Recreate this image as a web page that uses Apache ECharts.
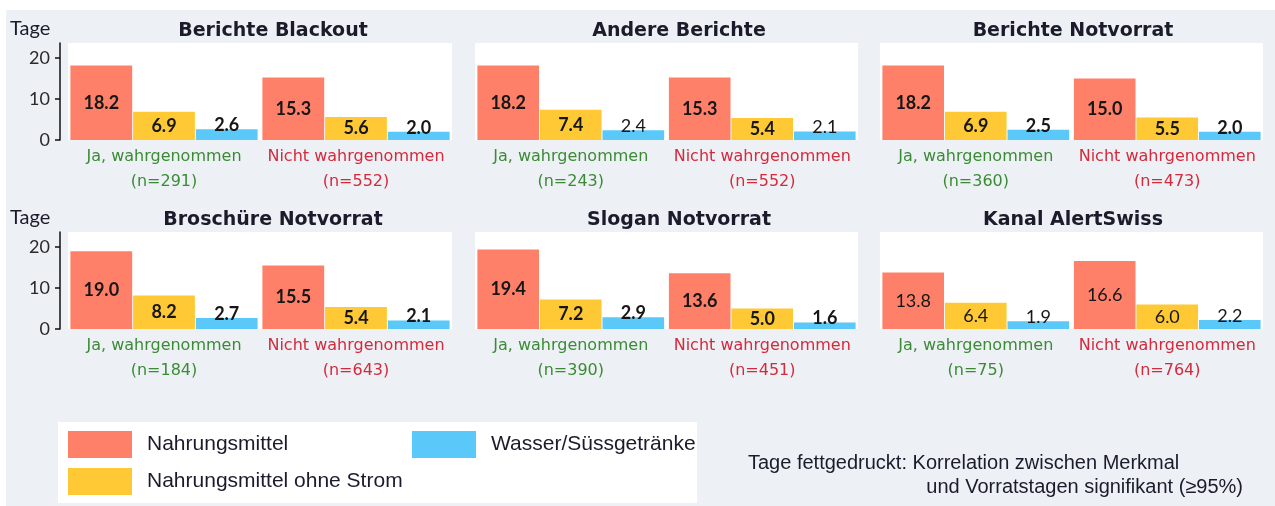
<!DOCTYPE html>
<html>
<head>
<meta charset="utf-8">
<script src="https://cdn.jsdelivr.net/npm/echarts@6/dist/echarts.min.js"></script>
<style>
  html, body { margin: 0; padding: 0; background: #ffffff; }
  #chart { width: 1275px; height: 506px; }
</style>
</head>
<body>
<div id="chart"></div>
<script>
// Panel titles (row by row) and the two groups per panel
const panelTitles = ['Berichte Blackout', 'Andere Berichte', 'Berichte Notvorrat',
                     'Broschüre Notvorrat', 'Slogan Notvorrat', 'Kanal AlertSwiss'];
const groups = ['Ja, wahrgenommen', 'Nicht wahrgenommen'];
const nJa = [291, 243, 360, 184, 390, 75];
const nNicht = [552, 552, 473, 643, 451, 764];

// Days of supply per panel: [Ja, Nicht]
const food        = [[18.2, 15.3], [18.2, 15.3], [18.2, 15.0], [19.0, 15.5], [19.4, 13.6], [13.8, 16.6]];
const foodNoPower = [[6.9, 5.6],   [7.4, 5.4],   [6.9, 5.5],   [8.2, 5.4],   [7.2, 5.0],   [6.4, 6.0]];
const water       = [[2.6, 2.0],   [2.4, 2.1],   [2.5, 2.0],   [2.7, 2.1],   [2.9, 1.6],   [1.9, 2.2]];

// Significant correlation (printed bold) per panel and measure
const sigFood        = [true, true, true, true, true, false];
const sigFoodNoPower = [true, true, true, true, true, false];
const sigWater       = [true, false, true, true, true, false];

const seriesNames = ['Nahrungsmittel', 'Nahrungsmittel ohne Strom', 'Wasser/Süssgetränke'];
const seriesColors = ['#ff8068', '#fec934', '#5bc8fa'];
const yTicks = [0, 10, 20];
const yMax = 23.7;

const noteLines = ['Tage fettgedruckt: Korrelation zwischen Merkmal',
                   'und Vorratstagen signifikant (\u226595%)'];

// Layout of the 3x2 panel grid
const colLeft = [68, 475, 880];
const colWidth = [384, 383, 383];
const rowTop = [43, 232];
const plotHeight = 97;
const titleCenterX = [273, 679, 1073];
const titleY = [31, 220];

const green = '#3b8b35';
const red = '#d42a3c';
const ink = '#1b1b2b';

const grids = [], xAxes = [], yAxes = [], series = [], graphics = [];

graphics.push({ type: 'rect', z: -10, shape: { x: 6, y: 10, width: 1269, height: 496 },
                style: { fill: '#edf1f5' } });

const measures = [food, foodNoPower, water];
const sigs = [sigFood, sigFoodNoPower, sigWater];

for (let p = 0; p < 6; p++) {
  const col = p % 3, row = Math.floor(p / 3);
  grids.push({
    left: colLeft[col], top: rowTop[row], width: colWidth[col], height: plotHeight,
    show: true, backgroundColor: '#ffffff', borderWidth: 0
  });
  xAxes.push({
    type: 'category', gridIndex: p, data: groups,
    axisLine: { show: false }, axisTick: { show: false },
    axisLabel: {
      interval: 0, margin: 4,
      formatter: function (v, i) {
        const n = i === 0 ? nJa[p] : nNicht[p];
        const k = i === 0 ? 'g' : 'r';
        return '{' + k + '|' + v + '}\n{' + k + '|(n=' + n + ')}';
      },
      rich: {
        g: { color: green, fontFamily: 'DejaVu Sans', fontSize: 16, lineHeight: 25 },
        r: { color: red, fontFamily: 'DejaVu Sans', fontSize: 16, lineHeight: 25 }
      }
    }
  });
  yAxes.push({
    type: 'value', gridIndex: p, min: 0, max: yMax,
    show: col === 0, offset: 8,
    axisLine: { show: true, lineStyle: { color: '#111111', width: 1.5 } },
    axisTick: { show: true, length: 5, customValues: yTicks, lineStyle: { color: '#111111', width: 1.5 } },
    axisLabel: { customValues: yTicks, margin: 10, color: '#2a2a2a',
                 fontFamily: 'Lato', fontSize: 18 },
    splitLine: { show: false }
  });
  for (let s = 0; s < 3; s++) {
    const bold = sigs[s][p];
    series.push({
      type: 'bar', name: seriesNames[s], xAxisIndex: p, yAxisIndex: p,
      data: measures[s][p],
      barGap: '1.5%', barCategoryGap: '2.5%',
      itemStyle: { color: seriesColors[s] },
      label: {
        show: true,
        position: s < 2 ? 'inside' : 'top',
        distance: s < 2 ? 5 : -5,
        formatter: function (d) { return d.value.toFixed(1); },
        color: '#161616', fontFamily: 'Lato', fontSize: 18,
        fontWeight: bold ? 'bold' : 'normal'
      },
      emphasis: { disabled: true }
    });
  }
  graphics.push({
    type: 'text', x: titleCenterX[col], y: titleY[row],
    style: { text: panelTitles[p], fill: ink, font: 'bold 19px "DejaVu Sans"',
             textAlign: 'center', textVerticalAlign: 'middle' }
  });
}

// "Tage" unit label for each row
for (let r = 0; r < 2; r++) {
  graphics.push({
    type: 'text', x: 10, y: titleY[r] - 2,
    style: { text: 'Tage', fill: ink, font: '20px Lato', textAlign: 'left', textVerticalAlign: 'middle' }
  });
}

// Legend panel background
graphics.push({ type: 'rect', z: -5, shape: { x: 58, y: 422, width: 639, height: 81 },
                style: { fill: '#ffffff' } });

// Footnote
graphics.push({ type: 'text', x: 748, y: 463,
  style: { text: noteLines[0], fill: ink, font: '20px "Liberation Sans"', textAlign: 'left', textVerticalAlign: 'middle' } });
graphics.push({ type: 'text', x: 1243, y: 487,
  style: { text: noteLines[1], fill: ink, font: '20px "Liberation Sans"', textAlign: 'right', textVerticalAlign: 'middle' } });

const legendText = { color: ink, fontFamily: 'Liberation Sans', fontSize: 21, padding: [0, 0, 0, 10] };

const chart = echarts.init(document.getElementById('chart'), null, { renderer: 'canvas' });
chart.setOption({
  animation: false,
  backgroundColor: '#ffffff',
  grid: grids,
  xAxis: xAxes,
  yAxis: yAxes,
  series: series,
  legend: [
    { left: 68, top: 431, orient: 'vertical', itemGap: 10, padding: 0,
      itemWidth: 64, itemHeight: 27, icon: 'rect', selectedMode: false,
      data: [seriesNames[0], seriesNames[1]], textStyle: legendText },
    { left: 412, top: 431, orient: 'vertical', itemGap: 10, padding: 0,
      itemWidth: 64, itemHeight: 27, icon: 'rect', selectedMode: false,
      data: [seriesNames[2]], textStyle: legendText }
  ],
  graphic: graphics
});
</script>
</body>
</html>
